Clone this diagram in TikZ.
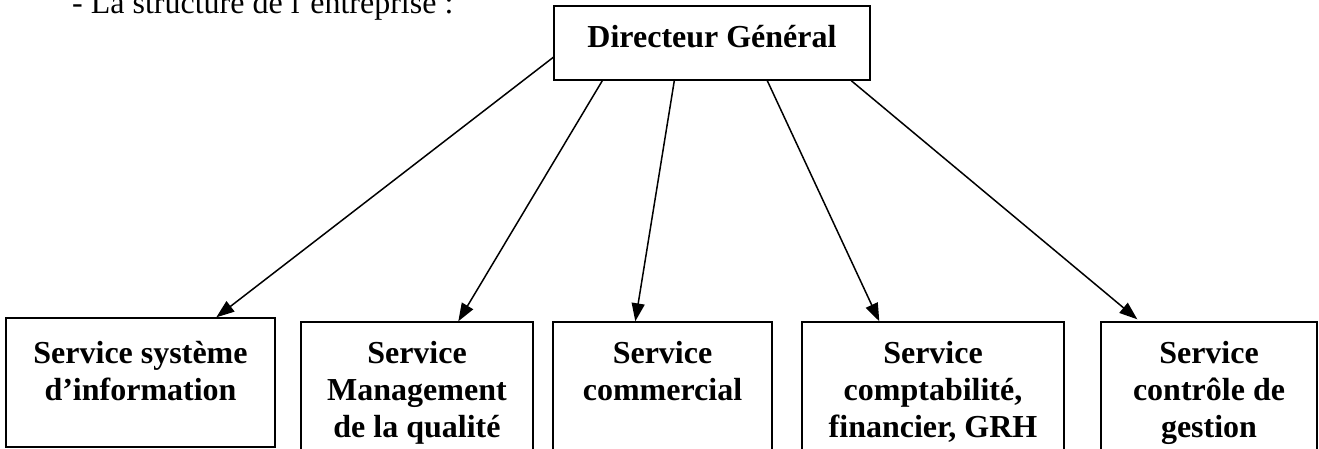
\documentclass[tikz,border=0pt]{standalone}
\usepackage{fontspec}
\setmainfont{Liberation Serif}
\usetikzlibrary{arrows.meta}
\tikzset{
  box/.style={draw=black, line width=1.4pt, inner sep=0pt, fill=none},
  lbl/.style={inner sep=0pt, align=center, anchor=north,
    font=\fontsize{32}{37}\selectfont\bfseries},
  link/.style={line width=1.5pt, -{Triangle[length=18pt,width=13pt]}},
}
\begin{document}
\begin{tikzpicture}[x=1pt,y=-1pt]
\useasboundingbox (0,0) rectangle (1319,448);
\clip (0,0) rectangle (1319,448);
% header text
\node[inner sep=0pt, anchor=base west, font=\fontsize{32}{37}\selectfont] (hdr) at (72,13) {- La structure de l’entreprise :};
% director
\node[box, minimum width=316pt, minimum height=74pt] (dg) at (712,43) {};
\node[inner sep=0pt, anchor=base, font=\fontsize{32}{37}\selectfont\bfseries] (dgt) at (712,47) {Directeur Général};
% services
\node[box, minimum width=269pt, minimum height=129pt] (b1) at (140.5,382.5) {};
\node[box, minimum width=232pt, minimum height=148pt] (b2) at (417,396) {};
\node[box, minimum width=219pt, minimum height=148pt] (b3) at (662.5,396) {};
\node[box, minimum width=262pt, minimum height=148pt] (b4) at (933,396) {};
\node[box, minimum width=216pt, minimum height=148pt] (b5) at (1209,396) {};
\node[lbl] (t1) at (140.5,337.1) {\strut Service système\\d’information};
\node[lbl] (t2) at (417,337.1) {\strut Service\\Management\\de la qualité};
\node[lbl] (t3) at (662.5,337.1) {\strut Service\\commercial};
\node[lbl] (t4) at (933,337.1) {\strut Service\\comptabilité,\\financier, GRH};
\node[lbl] (t5) at (1209,337.1) {\strut Service\\contrôle de\\gestion};
% connectors
\draw[link] ([yshift=-52pt]dg.north west) -- ([xshift=211pt]b1.north west);
\draw[link] ([xshift=49pt]dg.south west) -- ([xshift=158pt]b2.north west);
\draw[link] ([xshift=121pt]dg.south west) -- ([xshift=83pt]b3.north west);
\draw[link] ([xshift=214pt]dg.south west) -- ([xshift=78pt]b4.north west);
\draw[link] ([xshift=298pt]dg.south west) -- ([xshift=37pt,yshift=2pt]b5.north west);
\end{tikzpicture}
\end{document}
